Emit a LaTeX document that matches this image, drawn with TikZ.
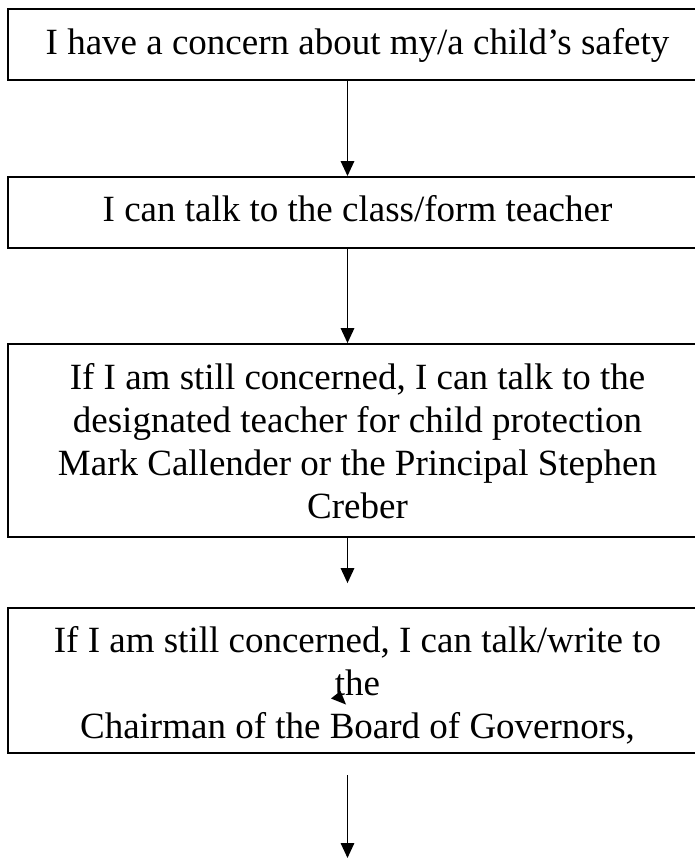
\documentclass[tikz,border=0pt]{standalone}
\usepackage{fontspec}
\setmainfont{Liberation Serif}
\usetikzlibrary{arrows.meta}
\newcommand{\topstrut}[1]{\rule{0pt}{#1pt}}
\newcommand{\botstrut}[1]{\rule[-#1pt]{0pt}{#1pt}}
\tikzset{
  flowbox/.style={draw=black, line width=1.9pt, minimum width=699pt, inner sep=0pt,
    align=center, font=\fontsize{37}{43}\selectfont},
  arr/.style={draw=black, line width=1.6pt, -{Triangle[length=15pt,width=13.5pt]}}
}
\begin{document}
\begin{tikzpicture}[x=1pt,y=-1pt]
\useasboundingbox (0,0) rectangle (695,859);
\clip (0,0) rectangle (695,859);
\fill[white] (0,0) rectangle (695,859);
\node[flowbox, minimum height=71pt] (b1) at (357.5,44.5)
  {\topstrut{30}I have a concern about my/a child’s safety\botstrut{10.4}};
\node[flowbox, minimum height=71pt] (b2) at (357.5,212.5)
  {\topstrut{30}I can talk to the class/form teacher\botstrut{11.6}};
\node[flowbox, minimum height=192.5pt] (b3) at (357.5,440.3)
  {\topstrut{36.4}If I am still concerned, I can talk to the\\designated teacher for child protection\\Mark Callender or the Principal Stephen\\Creber\botstrut{10}};
\node[flowbox, minimum height=144.5pt] (b4) at (357.5,680.3)
  {\topstrut{39.4}If I am still concerned, I can talk/write to\\the\\Chairman of the Board of Governors,\botstrut{10}};
\coordinate (colx) at (347.5,0);
\coordinate (start5) at (347.5,775);
\coordinate (end5) at (347.5,858);
\draw[arr] (b1.south -| colx) -- (b2.north -| colx);
\draw[arr] (b2.south -| colx) -- (b3.north -| colx);
\draw[arr, shorten >=24pt] (b3.south -| colx) -- (b4.north -| colx);
\draw[arr] (start5) -- (end5);
\fill[black] (340.5,691) -- (331,698.5) -- (346,704.5) -- cycle;
\end{tikzpicture}
\end{document}
